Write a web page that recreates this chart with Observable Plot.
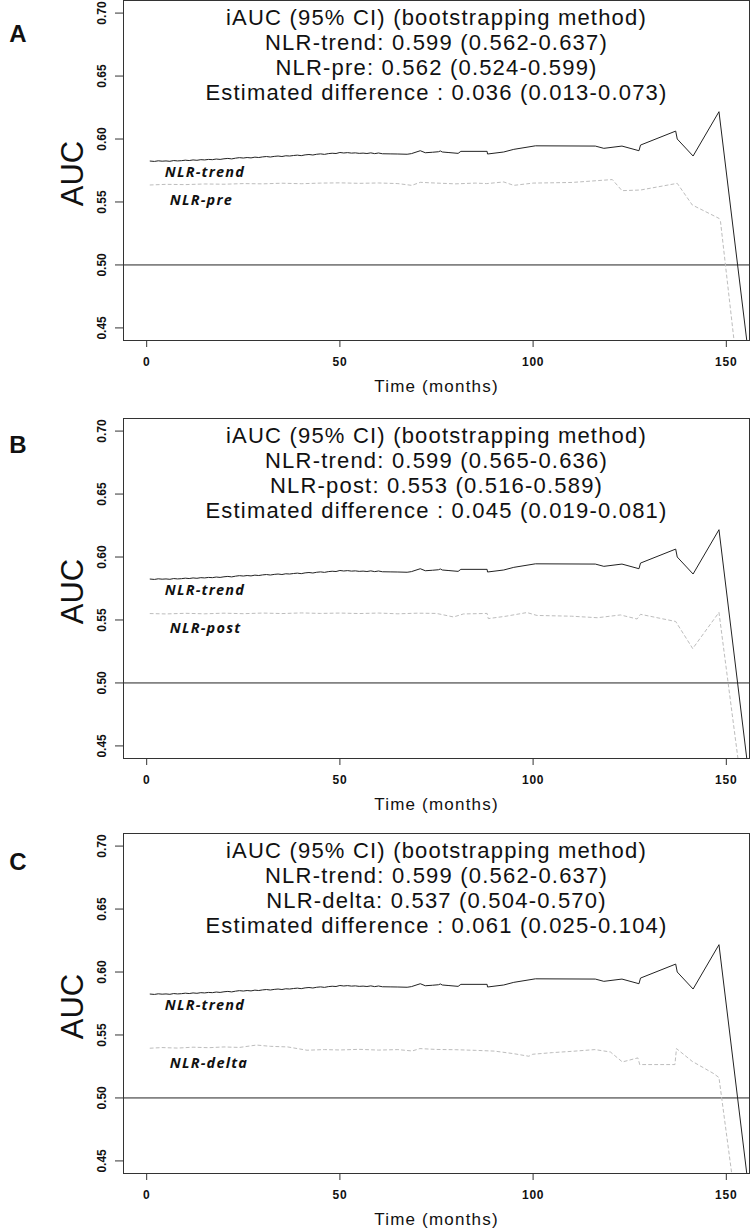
<!DOCTYPE html>
<html>
<head>
<meta charset="utf-8">
<script src="https://cdn.jsdelivr.net/npm/d3@7"></script>
<script src="https://cdn.jsdelivr.net/npm/@observablehq/plot@0.6"></script>
<style>
  html, body { margin: 0; padding: 0; background: #fff; width: 750px; height: 1230px; overflow: hidden; }
  #wrap { position: relative; width: 750px; height: 1230px; }
</style>
</head>
<body>
<div id="wrap"></div>
<script>
// ---------- data ----------
const xTicks = [0, 50, 100, 150];
const yTicks = [0.45, 0.50, 0.55, 0.60, 0.65, 0.70];

// NLR-trend (identical in all three panels)
const trendTime = [0.9,2,3,4,5,6,7,8,9,10,11,12,13,14,15,16,17,18,19,20,21,22,23,24,25,26,27,28,29,30,31,32,33,34,35,36,37,38,39,40,41,42,43,44,45,46,47,48,49,50,51,52,53,54,55,56,57,58,59,60,61,63,65,67.4,68.5,70.8,72.1,74,75.5,76,76.5,78,80.6,81.3,88.1,88.2,92.4,95,100.6,116.1,118.3,123.0,127.4,127.8,136.9,137.3,141.4,148.1,157];
const trendAUC = [0.5825,0.5822,0.5827,0.5824,0.5826,0.5823,0.5829,0.5826,0.5828,0.5832,0.5829,0.5834,0.5831,0.5836,0.5834,0.5838,0.5836,0.5841,0.5838,0.5843,0.5846,0.5842,0.5848,0.5852,0.5849,0.5853,0.5850,0.5856,0.5853,0.5858,0.5861,0.5857,0.5862,0.5865,0.5861,0.5867,0.5865,0.5869,0.5872,0.5868,0.5874,0.5877,0.5873,0.5879,0.5882,0.5878,0.5884,0.5887,0.5885,0.5893,0.5889,0.5892,0.5888,0.5890,0.5886,0.5888,0.5885,0.5890,0.5884,0.5889,0.5883,0.5882,0.5881,0.5879,0.5884,0.5907,0.5891,0.5895,0.5899,0.5905,0.5897,0.5893,0.5886,0.5902,0.5902,0.5881,0.5897,0.5918,0.5946,0.5944,0.5926,0.5944,0.5907,0.5952,0.6063,0.6000,0.5865,0.6217,0.397];

// NLR-pre (panel A)
const preTime = [0.9,5,10,15,20,25,30,35,40,45,50,55,60,65,68.6,70.8,75,80,85,88,92.4,95,100,110,120.5,123,127.8,137.3,141.2,148.1,148.5,154];
const preAUC = [0.5635,0.5640,0.5638,0.5643,0.5641,0.5646,0.5644,0.5649,0.5645,0.5650,0.5652,0.5648,0.5651,0.5646,0.5632,0.5656,0.5650,0.5644,0.5650,0.5646,0.5659,0.5632,0.5650,0.5655,0.5678,0.5590,0.5595,0.5648,0.5476,0.5370,0.5344,0.386];

// NLR-post (panel B)
const postTime = [0.9,5,10,15,20,25,30,35,40,45,50,55,60,65,70,75,79.4,82,88.1,88.4,93,98.4,101,110,116.6,118.3,122.6,126.9,127.8,136.9,141.3,148.1,155];
const postAUC = [0.5551,0.5548,0.5553,0.5549,0.5554,0.5550,0.5555,0.5551,0.5556,0.5552,0.5555,0.5551,0.5555,0.5549,0.5554,0.5552,0.5524,0.5548,0.5552,0.5511,0.5530,0.5559,0.5536,0.5530,0.5518,0.5524,0.5540,0.5508,0.5545,0.5488,0.5273,0.5560,0.393];

// NLR-delta (panel C)
const deltaTime = [0.9,4,8,12,16,20,24,28.4,32,36.5,41.5,46,50,55,60,65,68.7,70.7,75,80,85,90,94.9,98.9,99.9,105,110,116,120,123.1,127.1,127.6,136.7,137.1,141.2,146.7,148.1,153];
const deltaAUC = [0.5395,0.5400,0.5396,0.5403,0.5399,0.5405,0.5401,0.5420,0.5410,0.5405,0.5379,0.5384,0.5381,0.5386,0.5380,0.5384,0.5373,0.5392,0.5385,0.5383,0.5378,0.5372,0.5352,0.5331,0.5347,0.5360,0.5370,0.5384,0.5365,0.5286,0.5318,0.5265,0.5265,0.5392,0.5290,0.5194,0.5162,0.403];

const panelLetters = ["A", "B", "C"];
const compNames = ["NLR-pre", "NLR-post", "NLR-delta"];
const legendA = ["iAUC (95% CI) (bootstrapping method)", "NLR-trend: 0.599 (0.562-0.637)", "NLR-pre: 0.562 (0.524-0.599)", "Estimated difference : 0.036 (0.013-0.073)"];
const legendB = ["iAUC (95% CI) (bootstrapping method)", "NLR-trend: 0.599 (0.565-0.636)", "NLR-post: 0.553 (0.516-0.589)", "Estimated difference : 0.045 (0.019-0.081)"];
const legendC = ["iAUC (95% CI) (bootstrapping method)", "NLR-trend: 0.599 (0.562-0.637)", "NLR-delta: 0.537 (0.504-0.570)", "Estimated difference : 0.061 (0.025-0.104)"];

// label anchor points (data coordinates)
const trendLabel = {t: 4.7, v: 0.5738};
const compLabels = [{t: 6.0, v: 0.5516}, {t: 6.0, v: 0.5432}, {t: 6.0, v: 0.5278}];

// ---------- build ----------
const zip = (ts, vs) => ts.map((t, i) => ({t, v: vs[i]}));
const trend = zip(trendTime, trendAUC);
const comps = [zip(preTime, preAUC), zip(postTime, postAUC), zip(deltaTime, deltaAUC)];
const legends = [legendA, legendB, legendC];
const boxTops = [0.4, 418, 833];
const letterDys = [33.6, 27, 29];

const MT = 20, MB = 60, BOX_H = 340;
const wrap = document.getElementById("wrap");

for (let p = 0; p < 3; p++) {
  const svg = Plot.plot({
    width: 750,
    height: MT + BOX_H + MB,
    marginTop: MT,
    marginBottom: MB,
    marginLeft: 123,
    marginRight: 1,
    style: {background: "transparent", fontFamily: "'Liberation Sans', Arial, sans-serif", color: "#111"},
    x: {domain: [-6, 156]},
    y: {domain: [0.44, 0.71]},
    marks: [
      Plot.ruleY([0.5], {stroke: "#222", strokeWidth: 1}),
      Plot.line(comps[p], {x: "t", y: "v", stroke: "#bdbdbd", strokeWidth: 1, strokeDasharray: "3,3", clip: true}),
      Plot.line(trend, {x: "t", y: "v", stroke: "#222", strokeWidth: 1, clip: true}),
      Plot.frame({stroke: "#333", strokeWidth: 1}),
      Plot.axisX(xTicks, {tickSize: 7, tickPadding: 10, fontWeight: "bold", fontSize: 12, label: null, tickFormat: d => String(d), stroke: "#333"}),
      Plot.axisY(yTicks, {tickSize: 8, tickFormat: () => "", label: null, stroke: "#333"}),
      Plot.text(yTicks, {y: d => d, text: d => d.toFixed(2), frameAnchor: "left", dx: -21, rotate: -90, textAnchor: "middle", lineAnchor: "middle", fontWeight: "bold", fontSize: 12}),
      Plot.text(["AUC"], {text: d => d, frameAnchor: "left", dx: -50, dy: 3, rotate: -90, textAnchor: "middle", lineAnchor: "middle", fontSize: 31}),
      Plot.text(["Time (months)"], {text: d => d, frameAnchor: "bottom", dy: 46, lineAnchor: "middle", fontSize: 17}),
      Plot.text([legends[p].join("\n")], {text: d => d, frameAnchor: "top", dy: 53.5, lineAnchor: "middle", textAnchor: "middle", fontSize: 22, lineHeight: 25 / 22}),
      Plot.text([{...trendLabel, label: "NLR-trend"}, {...compLabels[p], label: compNames[p]}], {x: "t", y: "v", text: "label", textAnchor: "start", lineAnchor: "middle", fontFamily: "'Open Sans', sans-serif", fontWeight: "bold", fontStyle: "italic", fontSize: 14.5}),
      Plot.text([panelLetters[p]], {text: d => d, frameAnchor: "top-left", dx: -105, dy: letterDys[p], textAnchor: "middle", lineAnchor: "middle", fontWeight: "bold", fontSize: 24})
    ]
  });
  svg.style.position = "absolute";
  svg.style.left = "0px";
  svg.style.top = (boxTops[p] - MT) + "px";
  svg.style.overflow = "visible";
  wrap.appendChild(svg);
  d3.select(svg).selectAll("text").each(function () {
    const tr = this.getAttribute("transform") || "";
    if (tr.includes("rotate")) return;
    const fs = parseFloat(getComputedStyle(this).fontSize);
    const ls = fs >= 14 ? 1.2 : 0.8;
    this.style.letterSpacing = ls + "px";
  });
}
</script>
</body>
</html>
